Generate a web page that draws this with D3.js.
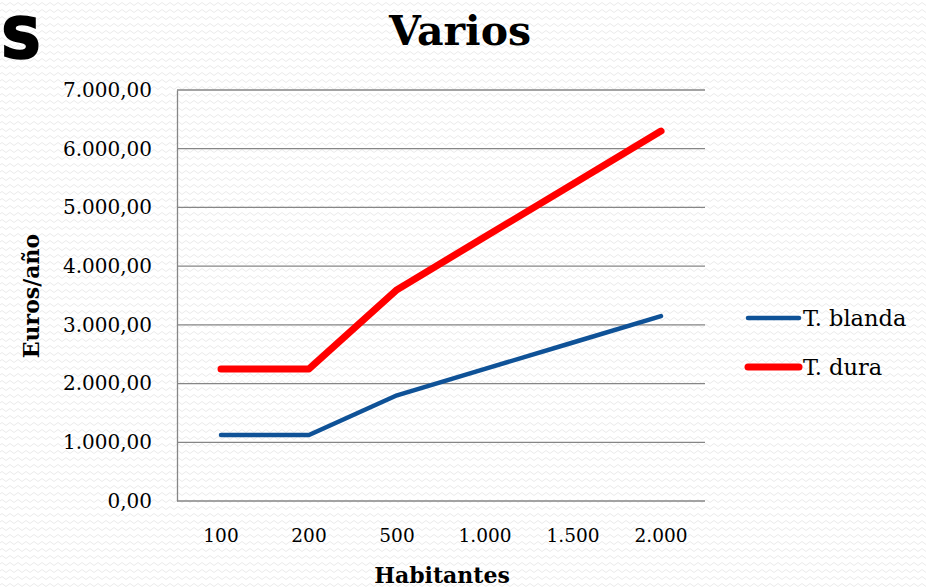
<!DOCTYPE html>
<html><head><meta charset="utf-8">
<script src="https://cdn.jsdelivr.net/npm/d3@7"></script>
<style>html,body{margin:0;padding:0;background:#fff;overflow:hidden}</style>
</head><body>
<svg id="c" width="926" height="587"></svg>
<script>
const categories = ["100","200","500","1.000","1.500","2.000"];
const blanda = [1125,1125,1800,2250,2700,3150];
const dura = [2250,2250,3600,4500,5400,6300];
const yTicks = [0,1000,2000,3000,4000,5000,6000,7000];
const seriesNames = ["T. blanda","T. dura"];
const seriesColors = ["#0f5297","#ff0000"];

const svg = d3.select("#c");
const serif = "'DejaVu Serif', serif";

// background pattern
const defs = svg.append("defs");
const pat = defs.append("pattern").attr("id","bg").attr("patternUnits","userSpaceOnUse")
  .attr("width",8).attr("height",7);
pat.append("rect").attr("width",8).attr("height",7).attr("fill","#ffffff");
pat.append("path").attr("d","M0,4 Q2,1 4,4 T8,4").attr("fill","none").attr("stroke","#ebebeb").attr("stroke-width",1);
svg.append("rect").attr("width",926).attr("height",587).attr("fill","url(#bg)");

// Slide title fragment
svg.append("text").attr("x",1).attr("y",57).attr("font-family","'DejaVu Sans', sans-serif")
  .attr("font-weight","bold").attr("font-size",56).attr("fill","#000")
  .attr("stroke","#000").attr("stroke-width",2.5).text("S");

const m = {l:177, r:705, t:90, b:501};
const x = d3.scaleBand().domain(categories).range([m.l,m.r]);
const y = d3.scaleLinear().domain([0,7000]).range([m.b,m.t]);

// gridlines
svg.append("g").selectAll("line").data(yTicks).join("line")
  .attr("x1",m.l).attr("x2",m.r).attr("y1",d=>y(d)).attr("y2",d=>y(d))
  .attr("stroke","#868686").attr("stroke-width",1.3);

// y axis
const fmt = d => d3.format(",.2f")(d).replace(/,/g,"#").replace(/\./g,",").replace(/#/g,".");
const yAxis = svg.append("g").attr("transform",`translate(${m.l},0)`)
  .call(d3.axisLeft(y).tickValues(yTicks).tickFormat(fmt).tickSize(0).tickPadding(25));
yAxis.select(".domain").attr("stroke","#868686").attr("stroke-width",1.3);
yAxis.selectAll("text").attr("font-family",serif).attr("font-size",20).attr("fill","#000");

// x axis
const xAxis = svg.append("g").attr("transform",`translate(0,${m.b})`)
  .call(d3.axisBottom(x).tickSize(0).tickPadding(28));
xAxis.select(".domain").remove();
xAxis.selectAll("text").attr("font-family",serif).attr("font-size",18.5).attr("fill","#000");

// lines
const line = d3.line().x((d,i)=>x(categories[i])+x.bandwidth()/2).y(d=>y(d));
[[blanda,4.5],[dura,7]].forEach(([s,w],k)=>{
  svg.append("path").datum(s).attr("d",line).attr("fill","none")
    .attr("stroke",seriesColors[k]).attr("stroke-width",w)
    .attr("stroke-linecap","round").attr("stroke-linejoin","round");
});

// titles
svg.append("text").attr("x",460).attr("y",45).attr("text-anchor","middle")
  .attr("font-family",serif).attr("font-weight","bold").attr("font-size",41).text("Varios");
svg.append("text").attr("x",442).attr("y",583).attr("text-anchor","middle")
  .attr("font-family",serif).attr("font-weight","bold").attr("font-size",22).text("Habitantes");
svg.append("text").attr("transform","translate(39,296) rotate(-90)").attr("text-anchor","middle")
  .attr("font-family",serif).attr("font-weight","bold").attr("font-size",22).text("Euros/año");

// legend
const lg = svg.append("g");
seriesNames.forEach((n,i)=>{
  const ly = 318 + i*49;
  lg.append("line").attr("x1",748).attr("x2",799).attr("y1",ly).attr("y2",ly)
    .attr("stroke",seriesColors[i]).attr("stroke-width",i?7:4.5).attr("stroke-linecap","round");
  lg.append("text").attr("x",803).attr("y",ly+8).attr("font-family",serif)
    .attr("font-size",22.5).attr("fill","#000").text(n);
});
</script>
</body></html>
